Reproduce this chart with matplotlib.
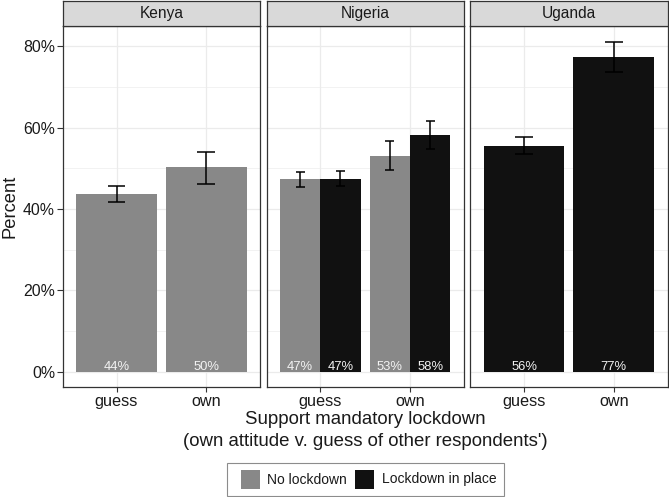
import matplotlib.pyplot as plt
from matplotlib.patches import Rectangle
from matplotlib.ticker import FixedLocator, FuncFormatter

# data
countries = ["Kenya", "Nigeria", "Uganda"]
questions = ["guess", "own"]
groups = ["No lockdown", "Lockdown in place"]

country = ["Kenya", "Kenya", "Nigeria", "Nigeria", "Nigeria", "Nigeria", "Uganda", "Uganda"]
question = ["guess", "own", "guess", "guess", "own", "own", "guess", "own"]
group = ["No lockdown", "No lockdown", "No lockdown", "Lockdown in place",
         "No lockdown", "Lockdown in place", "Lockdown in place", "Lockdown in place"]
pct = [43.7, 50.2, 47.3, 47.4, 53.0, 58.3, 55.5, 77.4]
ci_lo = [41.7, 46.2, 45.3, 45.6, 49.5, 54.8, 53.5, 73.8]
ci_hi = [45.7, 54.1, 49.2, 49.4, 56.7, 61.7, 57.6, 81.0]

y_ticks = [0, 20, 40, 60, 80]
y_minor = [10, 30, 50, 70]

FILL = {"No lockdown": "#888888", "Lockdown in place": "#111111"}
GRID = "#EBEBEB"
BORDER = "#333333"
TXT = "#1a1a1a"

plt.rcParams.update({"font.family": ["Liberation Sans", "DejaVu Sans"]})

W, H = 669, 497
fig = plt.figure(figsize=(W / 100, H / 100), dpi=100)

panel_left = [62.7, 266.5, 470.3]
panel_w = 197.3
panel_top, panel_bot = 26.0, 387.3
strip_top = 0.6

BAR_W = 0.9

for i, c in enumerate(countries):
    x0 = panel_left[i]
    ax = fig.add_axes([x0 / W, 1 - panel_bot / H, panel_w / W, (panel_bot - panel_top) / H])
    ax.set_xlim(0.4, 2.6)
    ax.set_ylim(-3.86, 85.0)
    ax.set_facecolor("white")

    # grid
    for y in y_minor:
        ax.axhline(y, color=GRID, lw=0.45, zorder=0)
    for y in y_ticks:
        ax.axhline(y, color=GRID, lw=0.9, zorder=0)
    for xq in (1, 2):
        ax.axvline(xq, color=GRID, lw=0.9, zorder=0)

    idx = [k for k in range(len(country)) if country[k] == c]
    for q_i, q in enumerate(questions):
        rows = [k for k in idx if question[k] == q]
        n = len(rows)
        w = BAR_W / n
        for j, k in enumerate(rows):
            xc = (q_i + 1) - BAR_W / 2 + w * (j + 0.5)
            ax.bar(xc, pct[k], width=w, color=FILL[group[k]], zorder=2, linewidth=0)
            cap = 0.2 / n / 2
            ax.vlines(xc, ci_lo[k], ci_hi[k], color="black", lw=1.1, zorder=3)
            ax.hlines([ci_lo[k], ci_hi[k]], xc - cap, xc + cap, color="black", lw=1.1, zorder=3)
            ax.annotate(f"{pct[k]:.0f}%", xy=(xc, 0), xytext=(0, 1.2), textcoords="offset points",
                        ha="center", va="baseline", fontsize=9.4, color="#F2F2F2", zorder=4)

    ax.set_xticks([1, 2])
    ax.set_xticklabels(questions, fontsize=11.7, color=TXT)
    ax.tick_params(axis="x", length=3.5, width=0.8, color=BORDER, pad=1.5)
    ax.yaxis.set_major_locator(FixedLocator(y_ticks))
    ax.yaxis.set_major_formatter(FuncFormatter(lambda v, p: f"{v:.0f}%"))
    if i == 0:
        ax.tick_params(axis="y", length=4, width=0.8, color=BORDER, pad=1.5, labelsize=11.4,
                       labelcolor=TXT)
    else:
        ax.tick_params(axis="y", left=False, labelleft=False)
    for s in ax.spines.values():
        s.set_color(BORDER)
        s.set_linewidth(0.9)
        s.set_zorder(5)

    # facet strip
    sax = fig.add_axes([x0 / W, 1 - panel_top / H, panel_w / W, (panel_top - strip_top) / H])
    sax.set_facecolor("#D9D9D9")
    sax.set_xticks([])
    sax.set_yticks([])
    for s in sax.spines.values():
        s.set_color(BORDER)
        s.set_linewidth(0.9)
    sax.text(0.5, 0.5, c, transform=sax.transAxes, ha="center", va="center",
             fontsize=11.2, color=TXT)

# axis titles
fig.text(9.7 / W, 1 - 206.5 / H, "Percent", rotation=90, ha="center", va="center",
         fontsize=13.2, color=TXT)
fig.text(365.2 / W, 1 - 420 / H, "Support mandatory lockdown", ha="center", va="center",
         fontsize=13.4, color=TXT)
fig.text(365.2 / W, 1 - 442 / H, "(own attitude v. guess of other respondents')",
         ha="center", va="center", fontsize=13.4, color=TXT)

# legend (laid out like ggplot's bottom legend box)
px = lambda x, y: (x / W, 1 - y / H)
fig.patches.append(Rectangle(px(227, 496), 277 / W, 33 / H, transform=fig.transFigure,
                             facecolor="white", edgecolor="#8c8c8c", lw=0.8))
key_x = [241, 355]
text_x = [267, 381.5]
for g, kx, tx in zip(groups, key_x, text_x):
    fig.patches.append(Rectangle(px(kx, 489), 19 / W, 19 / H, transform=fig.transFigure,
                                 facecolor=FILL[g], edgecolor="none"))
    fig.text(tx / W, 1 - 479.5 / H, g, ha="left", va="center", fontsize=10, color=TXT)

fig.savefig("out.png", dpi=100, facecolor="white")
